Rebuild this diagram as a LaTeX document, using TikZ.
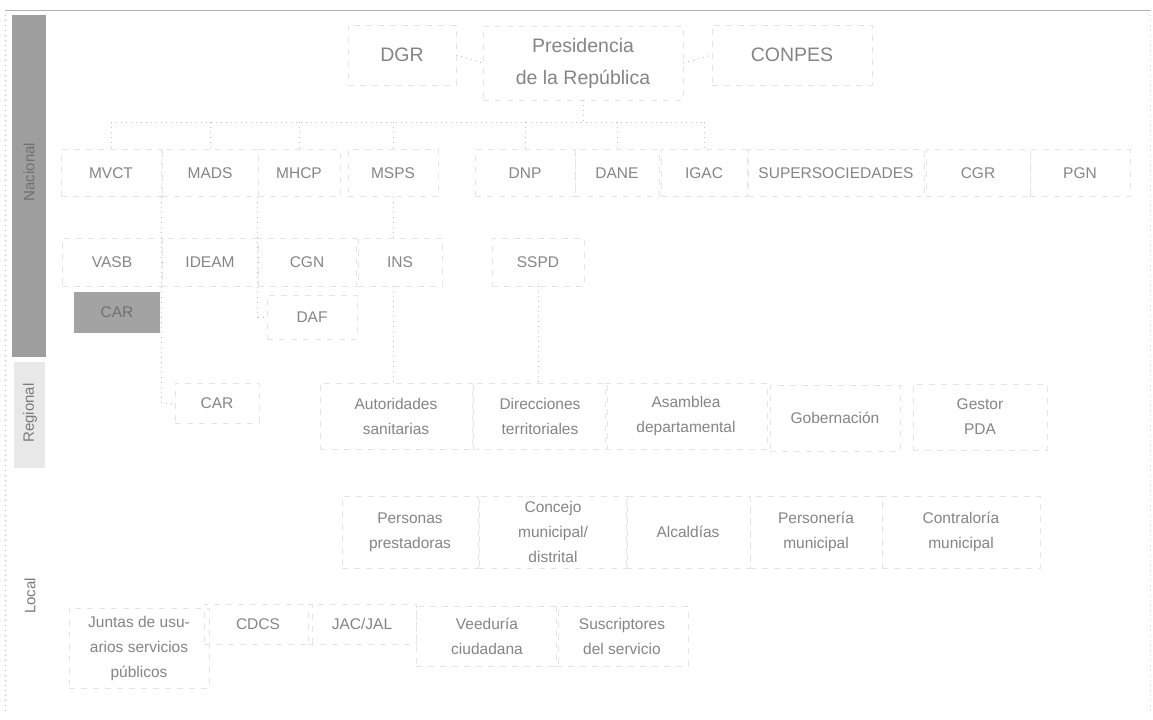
\documentclass[tikz,border=0pt]{standalone}
\usepackage{fontspec}
\setmainfont{Liberation Sans}
\begin{document}
\begin{tikzpicture}[x=0.5pt,y=-0.5pt,
  bx/.style={draw=black!10, dashed, line width=0.3pt, align=center, text=black!48,
    font=\fontsize{7.75pt}{12.5pt}\selectfont, inner sep=1pt},
  topbx/.style={bx, font=\fontsize{9.75pt}{16pt}\selectfont},
  conn/.style={draw=black!24, dotted, line width=0.5pt},
  lvl/.style={rotate=90, text=black!52, font=\fontsize{7.5pt}{9pt}\selectfont}]
\useasboundingbox (0,0) rectangle (1153,719);
\fill[white] (0,0) rectangle (1153,719);
% frame
\draw[black!30, line width=0.4pt] (5,10) -- (1150,10);
\draw[black!28, dotted, line width=0.5pt] (5,10) -- (5,714);
\draw[black!18, dotted, line width=0.5pt] (1150,10) -- (1150,714);
% level labels
\fill[black!38] (12,15) rectangle (46,357);
\node[lvl, text=black!56] (nac) at (29,172) {Nacional};
\fill[black!9] (14,362) rectangle (45,468);
\node[lvl] (reg) at (30,413) {Regional};
\node[lvl] (loc) at (30,596) {Local};
% top
\node[topbx, minimum width=54pt, minimum height=30pt] (dgr) at (402,55) {DGR};
\node[topbx, minimum width=100pt, minimum height=37pt] (pres) at (583,63) {Presidencia\\de la República};
\node[topbx, minimum width=80pt, minimum height=30pt] (conpes) at (792,55) {CONPES};
% national row 1
\node[bx, minimum width=50pt, minimum height=23.5pt] (mvct) at (111,173) {MVCT};
\node[bx, minimum width=48pt, minimum height=23.5pt] (mads) at (210,173) {MADS};
\node[bx, minimum width=41pt, minimum height=23.5pt] (mhcp) at (299,173) {MHCP};
\node[bx, minimum width=45pt, minimum height=23.5pt] (msps) at (393,173) {MSPS};
\node[bx, minimum width=50pt, minimum height=23.5pt] (dnp) at (525,173) {DNP};
\node[bx, minimum width=42pt, minimum height=23.5pt] (dane) at (617,173) {DANE};
\node[bx, minimum width=43pt, minimum height=23.5pt] (igac) at (704,173) {IGAC};
\node[bx, minimum width=88pt, minimum height=23.5pt] (super) at (836,173) {SUPERSOCIEDADES};
\node[bx, minimum width=52pt, minimum height=23.5pt] (cgr) at (978,173) {CGR};
\node[bx, minimum width=50pt, minimum height=23.5pt] (pgn) at (1080,173) {PGN};
% national row 2
\node[bx, minimum width=50pt, minimum height=24pt] (vasb) at (112,262) {VASB};
\node[bx, minimum width=48pt, minimum height=24pt] (ideam) at (210,262) {IDEAM};
\node[bx, minimum width=49pt, minimum height=24pt] (cgn) at (307,262) {CGN};
\node[bx, minimum width=42pt, minimum height=24pt] (ins) at (400,262) {INS};
\node[bx, minimum width=46pt, minimum height=24pt] (sspd) at (538,262) {SSPD};
\node[bx, draw=none, fill=black!36, text=black!56, minimum width=43pt, minimum height=20.5pt] (car1) at (117,312) {CAR};
\node[bx, minimum width=45pt, minimum height=22pt] (daf) at (312,317) {DAF};
% regional
\node[bx, minimum width=42pt, minimum height=20pt] (car2) at (217,403) {CAR};
\node[bx, minimum width=76pt, minimum height=33pt] (auto) at (396,416) {Autoridades\\sanitarias};
\node[bx, minimum width=67pt, minimum height=33pt] (dir) at (540,416) {Direcciones\\territoriales};
\node[bx, minimum width=81pt, minimum height=33pt] (asam) at (686,416) {Asamblea\\departamental};
\node[bx, minimum width=65pt, minimum height=33pt] (gob) at (835,418) {Gobernación};
\node[bx, minimum width=67pt, minimum height=33pt] (gest) at (980,417) {Gestor\\PDA};
% local row 1
\node[bx, minimum width=68pt, minimum height=36pt] (pers) at (410,532) {Personas\\prestadoras};
\node[bx, minimum width=74pt, minimum height=36pt] (conc) at (553,532) {Concejo\\municipal/\\distrital};
\node[bx, minimum width=62pt, minimum height=36pt] (alc) at (688,532) {Alcaldías};
\node[bx, minimum width=66pt, minimum height=36pt] (pmun) at (816,532) {Personería\\municipal};
\node[bx, minimum width=79pt, minimum height=36pt] (cmun) at (961,532) {Contraloría\\municipal};
% local row 2
\node[bx, minimum width=70pt, minimum height=40pt] (juntas) at (139,648) {Juntas de usu-\\arios servicios\\públicos};
\node[bx, minimum width=54pt, minimum height=20pt] (cdcs) at (258,624) {CDCS};
\node[bx, minimum width=54pt, minimum height=20pt] (jac) at (362,624) {JAC/JAL};
\node[bx, minimum width=71pt, minimum height=30pt] (veed) at (487,636) {Veeduría\\ciudadana};
\node[bx, minimum width=66pt, minimum height=30pt] (susc) at (622,636) {Suscriptores\\del servicio};
% connectors
\draw[conn] (dgr.east) -- (pres.west);
\draw[conn] (pres.east) -- (conpes.west);
\coordinate (bus) at (583,122);
\draw[conn] (pres.south) -- (bus);
\draw[conn] (mvct.north |- bus) -- (igac.north |- bus);
\foreach \n in {mvct,mads,mhcp,msps,dnp,dane,igac}
  \draw[conn] (\n.north |- bus) -- (\n.north);
\draw[conn] (msps.south) -- (msps.south |- ins.north);
\draw[conn] (msps.south |- ins.south) -- (msps.south |- auto.north);
\draw[conn] (mads.south west) -- (mads.south west |- car2.west) -- (car2.west);
\draw[conn] (mhcp.south west) -- (mhcp.south west |- daf.west) -- (daf.west);
\draw[conn] (sspd.south) -- (sspd.south |- dir.north);
\end{tikzpicture}
\end{document}
